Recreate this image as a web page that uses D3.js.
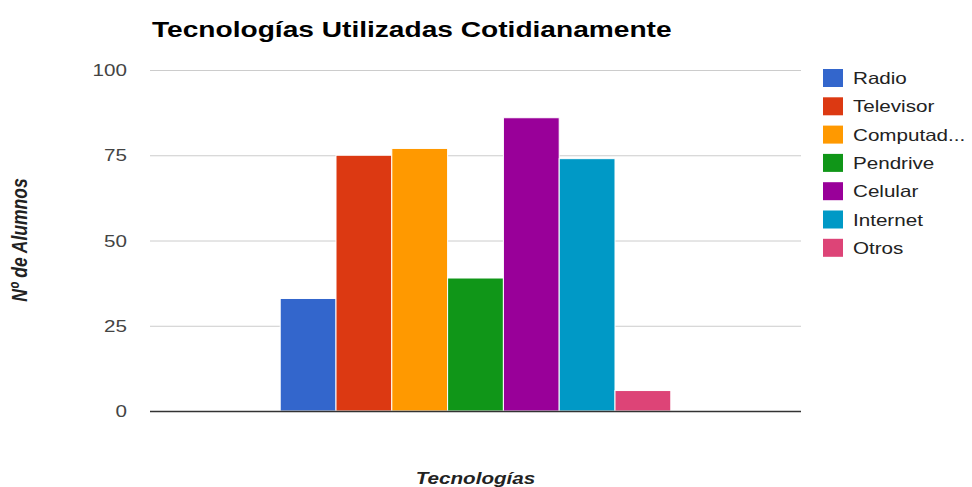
<!DOCTYPE html>
<html>
<head>
<meta charset="utf-8">
<title>Tecnologías Utilizadas Cotidianamente</title>
<script src="https://cdn.jsdelivr.net/npm/d3@7"></script>
<style>
  body { margin: 0; background: #fff; }
  text { font-family: "Liberation Sans", Arial, sans-serif; }
</style>
</head>
<body>
<script>
// data
var category = ["Tecnologías"];
var seriesNames = ["Radio", "Televisor", "Computadora", "Pendrive", "Celular", "Internet", "Otros"];
var seriesValues = [33, 75, 77, 39, 86, 74, 6];
var seriesColors = ["#3366cc", "#dc3912", "#ff9900", "#109618", "#990099", "#0099c6", "#dd4477"];
var yTicks = [0, 25, 50, 75, 100];

var W = 972, H = 487,
    plot = {left: 150, right: 801, top: 70, bottom: 411},
    sx = 1.25; // the picture is stretched sideways

var svg = d3.select("body").append("svg")
    .attr("width", W)
    .attr("height", H);

var y = d3.scaleLinear().domain([0, 100]).range([plot.bottom, plot.top]);

var x0 = d3.scaleBand().domain(category)
    .range([plot.left, plot.right])
    .paddingOuter(1 / 3);

var x1 = d3.scaleBand().domain(seriesNames)
    .range([0, x0.bandwidth()]);

// gridlines
svg.append("g").selectAll("line")
    .data(yTicks.filter(function (d) { return d > 0; }))
    .enter().append("line")
    .attr("x1", plot.left).attr("x2", plot.right)
    .attr("y1", function (d) { return y(d) + 0.5; })
    .attr("y2", function (d) { return y(d) + 0.5; })
    .attr("stroke", "#cccccc")
    .attr("stroke-width", 1);

// tick labels
svg.append("g").selectAll("text")
    .data(yTicks)
    .enter().append("text")
    .attr("transform", function (d) { return "translate(127," + (y(d) + 6) + ") scale(" + sx + ",1)"; })
    .attr("text-anchor", "end")
    .attr("font-size", 16.5)
    .attr("fill", "#444")
    .text(function (d) { return d; });

// bars
svg.append("g").selectAll("rect")
    .data(seriesNames)
    .enter().append("rect")
    .attr("x", function (d) { return x0(category[0]) + x1(d); })
    .attr("width", x1.bandwidth())
    .attr("y", function (d, i) { return y(seriesValues[i]); })
    .attr("height", function (d, i) { return y(0) - y(seriesValues[i]); })
    .attr("fill", function (d, i) { return seriesColors[i]; })
    .attr("stroke", "#fff")
    .attr("stroke-width", 1);

// baseline
svg.append("line")
    .attr("x1", plot.left).attr("x2", plot.right)
    .attr("y1", y(0) + 0.5).attr("y2", y(0) + 0.5)
    .attr("stroke", "#333")
    .attr("stroke-width", 1.5);

// title
svg.append("text")
    .attr("transform", "translate(152,37) scale(" + sx + ",1)")
    .attr("font-size", 22.5)
    .attr("font-weight", "bold")
    .attr("fill", "#000")
    .text("Tecnologías Utilizadas Cotidianamente");

// axis titles
svg.append("text")
    .attr("transform", "translate(" + ((plot.left + plot.right) / 2) + ",484) scale(" + sx + ",1)")
    .attr("text-anchor", "middle")
    .attr("font-size", 16.5)
    .attr("font-weight", "bold")
    .attr("font-style", "italic")
    .attr("fill", "#222")
    .text(category[0]);

svg.append("text")
    .attr("transform", "translate(27,240) scale(" + sx + ",1) rotate(-90)")
    .attr("text-anchor", "middle")
    .attr("font-size", 17.5)
    .attr("font-weight", "bold")
    .attr("font-style", "italic")
    .attr("fill", "#222")
    .text("Nº de Alumnos");

// legend
var legend = svg.append("g").selectAll("g")
    .data(seriesNames)
    .enter().append("g")
    .attr("transform", function (d, i) { return "translate(823," + (69 + i * 28.3) + ")"; });

legend.append("rect")
    .attr("width", 20).attr("height", 18)
    .attr("fill", function (d, i) { return seriesColors[i]; });

legend.append("text")
    .attr("transform", "translate(30,15) scale(" + sx + ",1)")
    .attr("font-size", 16.5)
    .attr("fill", "#222")
    .text(function (d) { return d.length > 9 ? d.slice(0, 8) + "..." : d; });
</script>
</body>
</html>
